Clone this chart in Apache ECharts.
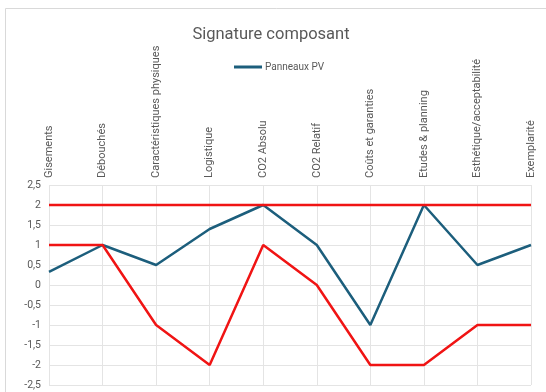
<!DOCTYPE html>
<html>
<head>
<meta charset="utf-8">
<script src="https://cdn.jsdelivr.net/npm/echarts@6/dist/echarts.min.js"></script>
<style>
  html, body { margin: 0; padding: 0; background: #fff; }
  #chart { width: 546px; height: 392px; }
</style>
</head>
<body>
<div id="chart"></div>
<script>
// Criteria of the component signature
const categories = [
  'Gisements', 'Débouchés', 'Caractéristiques physiques', 'Logistique',
  'CO2 Absolu', 'CO2 Relatif', 'Coûts et garanties', 'Etudes & planning',
  'Esthétique/acceptabilité', 'Exemplarité'
];
// Score of the PV panels on each criterion
const panneauxPV = [0.33, 1, 0.5, 1.4, 2, 1, -1, 2, 0.5, 1];
// Upper and lower envelopes
const limiteHaute = [2, 2, 2, 2, 2, 2, 2, 2, 2, 2];
const limiteBasse = [1, 1, -1, -2, 1, 0, -2, -2, -1, -1];
// Value axis
const yMin = -2.5, yMax = 2.5, yStep = 0.5;

const textColor = '#595959';
const font = 'Roboto, "Noto Sans", sans-serif';

const chart = echarts.init(document.getElementById('chart'));
chart.setOption({
  animation: false,
  textStyle: { fontFamily: font },
  graphic: [{
    type: 'rect',
    shape: { x: 5.5, y: 8.5, width: 560, height: 400 },
    style: { fill: 'none', stroke: '#d9d9d9', lineWidth: 1 },
    silent: true
  }],
  title: {
    text: 'Signature composant',
    left: 266, top: 21, textAlign: 'center',
    textStyle: { color: textColor, fontSize: 16.5, fontWeight: 'normal', fontFamily: font }
  },
  legend: {
    data: ['Panneaux PV'],
    left: 229, top: 57,
    itemWidth: 28, itemHeight: 3, itemGap: 2,
    icon: 'rect',
    textStyle: { color: textColor, fontSize: 10, fontFamily: font, padding: [0, 0, 0, -2] }
  },
  grid: { left: 49, right: 15, top: 185, bottom: 7, containLabel: false },
  xAxis: {
    type: 'category',
    position: 'top',
    data: categories,
    boundaryGap: false,
    axisLine: { show: false },
    axisTick: { show: false },
    axisLabel: { rotate: 90, margin: 7, color: textColor, fontSize: 11, fontFamily: font, interval: 0 },
    splitLine: { show: true, lineStyle: { color: '#e4e4e4', width: 1 } }
  },
  yAxis: {
    type: 'value',
    min: yMin, max: yMax, interval: yStep,
    axisLine: { show: false },
    axisTick: { show: false },
    axisLabel: {
      margin: 8, color: textColor, fontSize: 10.5, fontFamily: font,
      formatter: v => String(v).replace('.', ',')
    },
    splitLine: { show: true, lineStyle: { color: '#e4e4e4', width: 1 } }
  },
  series: [
    {
      name: 'Panneaux PV', type: 'line', data: panneauxPV,
      symbol: 'none', lineStyle: { color: '#1c5e7c', width: 2.5 },
      itemStyle: { color: '#1c5e7c' }
    },
    {
      name: 'Limite haute', type: 'line', data: limiteHaute,
      symbol: 'none', lineStyle: { color: '#f01414', width: 2.5 },
      itemStyle: { color: '#f01414' }
    },
    {
      name: 'Limite basse', type: 'line', data: limiteBasse,
      symbol: 'none', lineStyle: { color: '#f01414', width: 2.5 },
      itemStyle: { color: '#f01414' }
    }
  ]
});
</script>
</body>
</html>
